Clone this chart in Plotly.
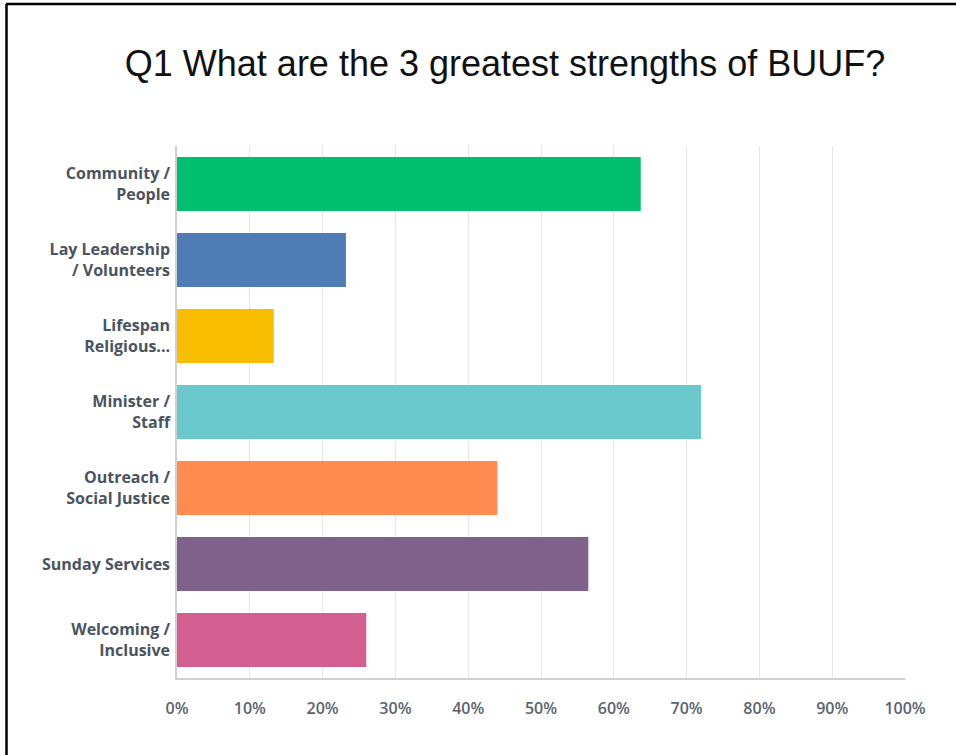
import plotly.graph_objects as go

categories = [
    "Community /<br>People",
    "Lay Leadership<br>/ Volunteers",
    "Lifespan<br>Religious...",
    "Minister /<br>Staff",
    "Outreach /<br>Social Justice",
    "Sunday Services",
    "Welcoming /<br>Inclusive",
]
values = [0.637, 0.232, 0.133, 0.720, 0.440, 0.565, 0.260]
colors = ["#00BF6F", "#507CB6", "#F9BE00", "#6BC8CD", "#FF8B4F", "#7F628B", "#D25F90"]
tick_vals = [0, 0.1, 0.2, 0.3, 0.4, 0.5, 0.6, 0.7, 0.8, 0.9, 1.0]
tick_text = ["0%", "10%", "20%", "30%", "40%", "50%", "60%", "70%", "80%", "90%", "100%"]
title_text = "Q1 What are the 3 greatest strengths of BUUF?"

W, H = 956, 755
L, R, T, B = 177, 51, 146, 77
pw, ph = W - L - R, H - T - B

def px_x(x):
    return (x - L) / pw

def px_y(y):
    return (H - B - y) / ph

fig = go.Figure(
    go.Bar(
        x=values,
        y=categories,
        orientation="h",
        marker=dict(color=colors, line=dict(width=0)),
        hoverinfo="skip",
    )
)

fig.update_layout(
    width=W,
    height=H,
    margin=dict(l=L, r=R, t=T, b=B),
    paper_bgcolor="white",
    plot_bgcolor="white",
    bargap=0.29,
    showlegend=False,
    title=dict(
        text=title_text,
        x=505 / W,
        xanchor="center",
        xref="container",
        y=1 - 63 / H,
        yanchor="middle",
        yref="container",
        font=dict(family="Liberation Sans, Arial", size=36, color="#111111"),
    ),
    xaxis=dict(
        range=[0, 1],
        tickvals=tick_vals,
        ticktext=tick_text,
        showgrid=True,
        gridcolor="#E6E6E6",
        gridwidth=1,
        zeroline=False,
        showline=True,
        linecolor="#D0D0D0",
        linewidth=1.5,
        ticks="",
        ticklabelstandoff=15,
        tickfont=dict(family="Open Sans", size=16, color="#5A6470", weight=600),
        fixedrange=True,
    ),
    yaxis=dict(
        autorange="reversed",
        showgrid=False,
        zeroline=False,
        showline=True,
        linecolor="#D0D0D0",
        linewidth=1.5,
        ticks="",
        ticklabelstandoff=2,
        tickfont=dict(family="Open Sans", size=16, color="#4A5460", weight="bold"),
        fixedrange=True,
    ),
    shapes=[
        dict(type="line", xref="paper", yref="paper",
             x0=px_x(6), x1=px_x(W + 5), y0=px_y(4), y1=px_y(4),
             line=dict(color="black", width=2.5)),
        dict(type="line", xref="paper", yref="paper",
             x0=px_x(6.5), x1=px_x(6.5), y0=px_y(4), y1=px_y(H + 5),
             line=dict(color="black", width=2.5)),
    ],
)

fig.write_html("out.html")
